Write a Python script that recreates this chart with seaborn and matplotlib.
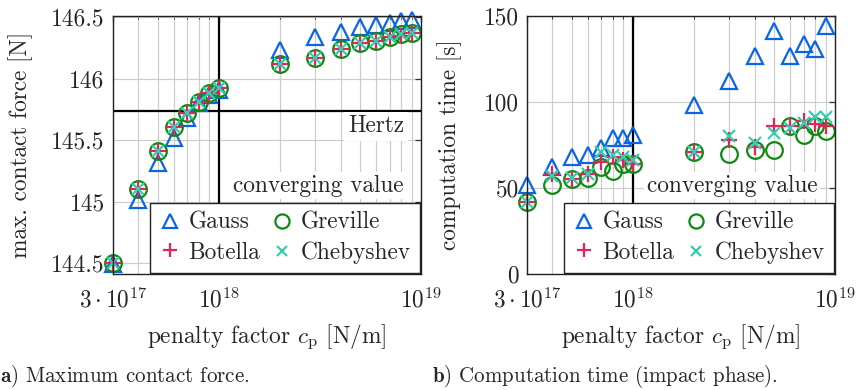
import matplotlib
matplotlib.use("Agg")
import matplotlib.pyplot as plt
import seaborn as sns
import numpy as np
import pandas as pd
from matplotlib.lines import Line2D

sns.set_theme(style="white")
plt.rcParams["font.family"] = "serif"
plt.rcParams["font.serif"] = ["cmr10", "DejaVu Serif"]
plt.rcParams["mathtext.fontset"] = "cm"
plt.rcParams["axes.formatter.use_mathtext"] = True
plt.rcParams["axes.unicode_minus"] = False

FS = 16.8
CAP_FS = 15.1

# ---------------- data ----------------
penalty = [3e17, 4e17, 5e17, 6e17, 7e17, 8e17, 9e17,
           1e18, 2e18, 3e18, 4e18, 5e18, 6e18, 7e18, 8e18, 9e18]

force_gauss = [144.49, 145.01, 145.31, 145.52, 145.68, 145.80, 145.87,
               145.91, 146.23, 146.34, 146.38, 146.42, 146.44, 146.45, 146.47, 146.48]
force_greville = [144.50, 145.10, 145.41, 145.61, 145.72, 145.81, 145.88,
                  145.92, 146.12, 146.17, 146.24, 146.29, 146.31, 146.34, 146.36, 146.37]
force_botella = [144.50, 145.10, 145.41, 145.61, 145.72, 145.81, 145.88,
                 145.92, 146.12, 146.17, 146.24, 146.29, 146.31, 146.34, 146.35, 146.37]
force_chebyshev = [144.50, 145.10, 145.41, 145.61, 145.72, 145.81, 145.88,
                   145.92, 146.12, 146.17, 146.24, 146.29, 146.31, 146.34, 146.36, 146.37]

time_gauss = [52, 62, 68, 69, 73, 79, 79, 81, 98, 112, 127, 141, 127, 134, 131, 144]
time_greville = [42, 52, 55, 56, 62, 60, 64, 64, 71, 70, 72, 72, 86, 81, 86, 83]
time_botella = [42, 58, 55, 58, 65, 68, 66, 64, 71, 78, 74, 86, 86, 89, 87, 86]
time_chebyshev = [42, 57, 56, 58, 71, 69, 68, 66, 71, 80, 76, 82, 85, 88, 91, 91]

hertz_force = 145.74
converging_penalty = 1e18

methods = ["Gauss", "Greville", "Botella", "Chebyshev"]
colors = {"Gauss": "#0a64e6", "Greville": "#0e8a12",
          "Botella": "#e3245a", "Chebyshev": "#36ccac"}
markers = {"Gauss": "^", "Greville": "o", "Botella": "+", "Chebyshev": "x"}
msize = {"Gauss": 11.5, "Greville": 12, "Botella": 12, "Chebyshev": 9}

force_df = pd.DataFrame({"penalty": penalty * 4,
                         "value": force_gauss + force_greville + force_botella + force_chebyshev,
                         "method": sum([[m] * len(penalty) for m in methods], [])})
time_df = pd.DataFrame({"penalty": penalty * 4,
                        "value": time_gauss + time_greville + time_botella + time_chebyshev,
                        "method": sum([[m] * len(penalty) for m in methods], [])})

fig = plt.figure(figsize=(8.62, 3.90), dpi=100)
W, H = 862, 390
ax1 = fig.add_axes([113 / W, 1 - 274 / H, 308 / W, 258 / H])
ax2 = fig.add_axes([527 / W, 1 - 274 / H, 308 / W, 258 / H])


def draw(ax, df):
    for m in methods:
        sub = df[df["method"] == m]
        hollow = m in ("Gauss", "Greville")
        sns.lineplot(data=sub, x="penalty", y="value", ax=ax, estimator=None, sort=False,
                     linestyle="", marker=markers[m], markersize=msize[m],
                     markerfacecolor="none" if hollow else colors[m],
                     markeredgecolor=colors[m], markeredgewidth=1.6,
                     color=colors[m], zorder=5, legend=False, clip_on=False)


def style(ax):
    ax.set_xscale("log")
    ax.set_xlim(3e17, 1e19)
    ax.set_xticks([3e17, 1e18, 1e19])
    ax.set_xticklabels([r"$3\cdot10^{17}$", r"$10^{18}$", r"$10^{19}$"])
    minors = [v * 1e17 for v in range(4, 10)] + [v * 1e18 for v in range(2, 10)]
    ax.set_xticks(minors, minor=True)
    ax.xaxis.set_minor_formatter(matplotlib.ticker.NullFormatter())
    ax.grid(True, which="both", axis="x", color="#cccccc", lw=0.85, zorder=0)
    ax.grid(True, which="major", axis="y", color="#cccccc", lw=0.85, zorder=0)
    ax.tick_params(axis="both", which="both", direction="in", top=True, right=True,
                   labelsize=FS, color="#333333")
    ax.tick_params(axis="both", which="major", length=4.5, width=0.9)
    ax.tick_params(axis="x", which="major", pad=9.5)
    ax.tick_params(axis="y", which="major", pad=6)
    ax.tick_params(axis="x", which="minor", length=2.5, width=0.7)
    for s in ax.spines.values():
        s.set_color("#222222")
        s.set_linewidth(1.0)
        s.set_zorder(10)
    ax.set_xlabel(r"penalty factor $c_\mathrm{p}$ [N/m]", fontsize=FS)
    ax.xaxis.set_label_coords(0.5, -0.19)
    ax.axvline(converging_penalty, color="black", lw=1.6, zorder=3)
    ax.text(0.943, 0.30, "converging value", transform=ax.transAxes, ha="right", va="bottom",
            fontsize=FS, zorder=4,
            bbox=dict(facecolor="white", edgecolor="none", pad=2.0))
    handles = [Line2D([], [], linestyle="", marker=markers[m], markersize=msize[m] * 0.85,
                      markerfacecolor="none" if m in ("Gauss", "Greville") else colors[m],
                      markeredgecolor=colors[m], markeredgewidth=1.6, label=m)
               for m in ["Gauss", "Botella", "Greville", "Chebyshev"]]
    leg = ax.legend(handles=handles, ncol=2, loc="lower right", fontsize=FS,
                    frameon=True, fancybox=False, framealpha=1, edgecolor="#222222",
                    borderpad=0.38, labelspacing=0.32, handlelength=0.9,
                    handletextpad=0.35, columnspacing=0.5, borderaxespad=0.05)
    leg.get_frame().set_linewidth(1.0)
    leg.set_zorder(20)


draw(ax1, force_df)
style(ax1)
ax1.set_ylim(144.41, 146.51)
ax1.set_yticks([144.5, 145, 145.5, 146, 146.5])
ax1.set_yticklabels(["144.5", "145", "145.5", "146", "146.5"])
ax1.set_ylabel("max. contact force [N]", fontsize=FS)
ax1.yaxis.set_label_coords(-0.26, 0.5)
ax1.axhline(hertz_force, color="black", lw=1.6, zorder=3)
ax1.text(0.945, 0.615, "Hertz", transform=ax1.transAxes, ha="right", va="top",
         fontsize=FS, zorder=4, bbox=dict(facecolor="white", edgecolor="none", pad=2.5))

draw(ax2, time_df)
style(ax2)
ax2.set_ylim(0, 150)
ax2.set_yticks([0, 50, 100, 150])
ax2.set_yticklabels(["0", "50", "100", "150"])
ax2.set_ylabel("computation time [s]", fontsize=FS)
ax2.yaxis.set_label_coords(-0.211, 0.5)

fig.text(0.0, 1 - 376 / H, r"$\mathbf{a)}$ Maximum contact force.", fontsize=CAP_FS,
         ha="left", va="center")
fig.text(432 / W, 1 - 376 / H, r"$\mathbf{b)}$ Computation time (impact phase).", fontsize=CAP_FS,
         ha="left", va="center")

fig.savefig("out.png", dpi=100)
